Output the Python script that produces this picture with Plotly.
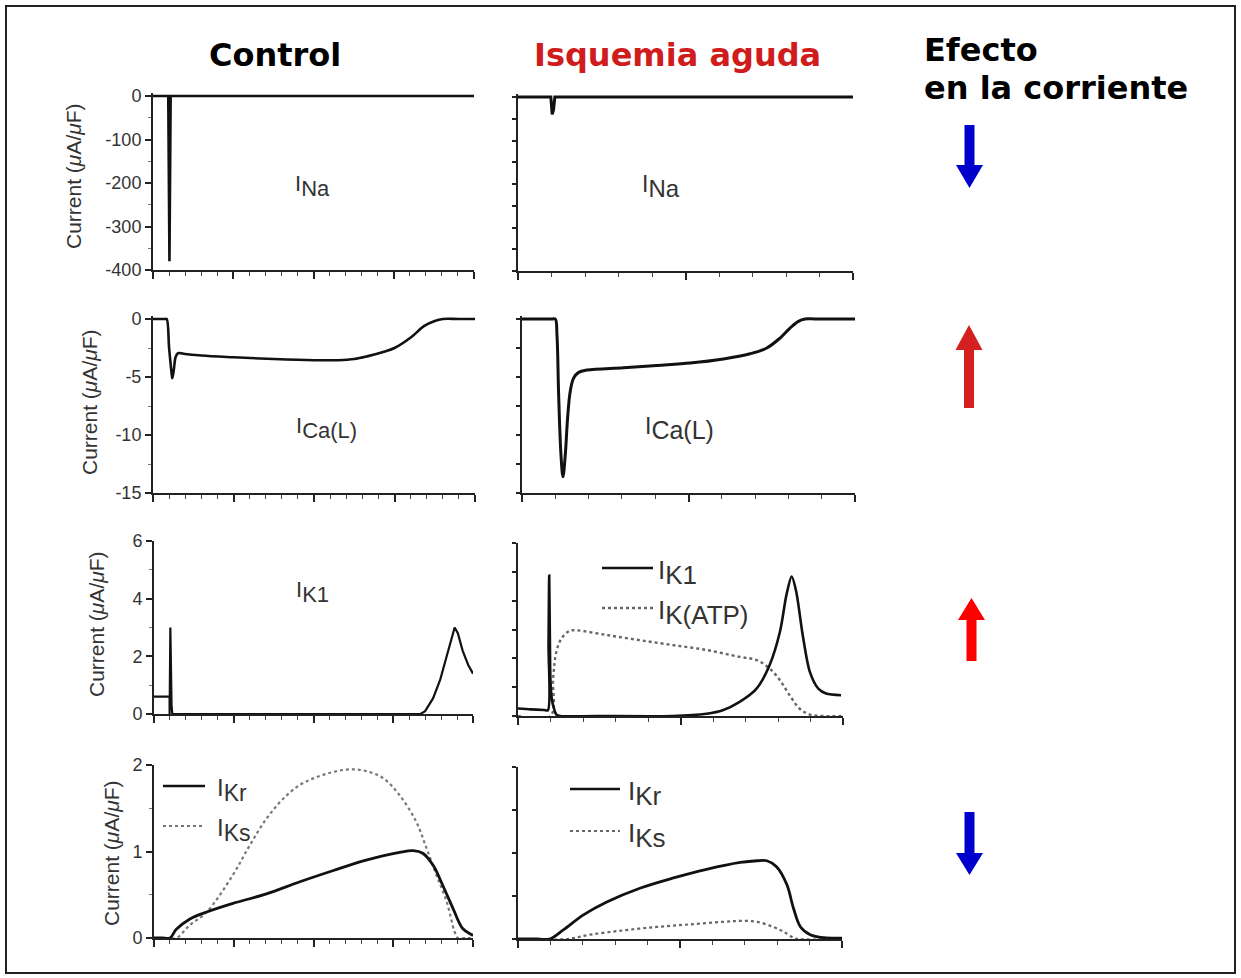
import plotly.graph_objects as go

# ---------------- data ----------------
# Control column (time axis 0-400 ms)
ina_ctrl_t = [0, 19, 20.5, 22, 400]
ina_ctrl_v = [0, 0, -380, 0, 0]

ica_ctrl_t = [0, 10, 15, 17, 20, 23, 24, 26, 28, 31, 38, 60, 100, 150, 200, 230, 250, 267, 288, 300, 321, 337, 350, 360, 380, 400]
ica_ctrl_v = [0, 0, 0, 0, -2.5, -4.6, -5.1, -4.3, -3.3, -2.95, -3.0, -3.15, -3.3, -3.45, -3.55, -3.55, -3.45, -3.2, -2.8, -2.5, -1.55, -0.6, -0.17, 0, 0, 0]

ik1_ctrl_t = [0, 19.5, 19.6, 20.5, 22, 23, 334, 340, 350, 359, 367, 374, 377, 381, 387, 394, 400]
ik1_ctrl_v = [0.6, 0.6, 0, 3.0, 0.3, 0, 0, 0.1, 0.55, 1.2, 2.0, 2.7, 3.0, 2.8, 2.2, 1.7, 1.4]

ikr_ctrl_t = [0, 10, 20, 28, 45, 66, 99, 141, 183, 225, 266, 308, 325, 337, 350, 362, 375, 387, 398, 400]
ikr_ctrl_v = [0, 0, 0, 0.1, 0.22, 0.30, 0.40, 0.51, 0.65, 0.78, 0.90, 0.99, 1.01, 0.98, 0.84, 0.61, 0.34, 0.11, 0.04, 0.03]

iks_ctrl_t = [0, 15, 28, 45, 66, 99, 120, 141, 162, 183, 204, 225, 246, 266, 287, 308, 329, 342, 354, 367, 377, 381, 390, 400]
iks_ctrl_v = [0, 0, 0, 0.15, 0.30, 0.73, 1.07, 1.38, 1.61, 1.77, 1.86, 1.92, 1.95, 1.93, 1.85, 1.65, 1.34, 1.03, 0.73, 0.42, 0.07, 0, 0, 0]

# Acute ischemia column (time axis 0-500 ms)
ina_isch_t = [0, 49, 51, 53, 55, 500]
ina_isch_v = [0, 0, -40, -30, 0, 0]

ica_isch_t = [0, 45, 50, 52.5, 55, 58.5, 61.5, 65, 68.5, 72.5, 77.5, 85, 97.5, 152.5, 202.5, 252.5, 302.5, 342.5, 367.5, 387.5, 402.5, 415, 425, 440, 500]
ica_isch_v = [0, 0, 0, -1.35, -6.5, -11.7, -13.6, -11.7, -8.5, -6.2, -5.1, -4.6, -4.4, -4.2, -4.0, -3.8, -3.45, -3.0, -2.5, -1.64, -0.78, -0.2, 0, 0, 0]

ik1_isch_t = [0, 20, 40, 46, 47, 48, 49, 50, 52, 54, 59, 65, 120, 238, 290, 315, 341, 367, 387, 403, 413, 421, 428, 438, 449, 462, 474, 497]
ik1_isch_v = [0.26, 0.23, 0.21, 0.2, 2.5, 4.87, 2.8, 1.2, 0.6, 0.37, 0.05, 0, 0, 0, 0.08, 0.2, 0.49, 0.95, 1.76, 2.92, 4.2, 4.84, 4.32, 2.81, 1.53, 0.95, 0.78, 0.72]

ikatp_isch_t = [0, 50, 54, 59, 67, 79, 90, 136, 187, 238, 290, 341, 367, 387, 403, 418, 433, 449, 469, 500]
ikatp_isch_v = [0, 0, 1.3, 2.23, 2.69, 2.95, 2.97, 2.81, 2.63, 2.46, 2.29, 2.05, 1.94, 1.65, 1.24, 0.72, 0.26, 0.05, 0, 0]

ikr_isch_t = [0, 30, 49, 70, 101, 137, 188, 240, 291, 343, 369, 384, 399, 415, 425, 436, 451, 472, 500]
ikr_isch_v = [0, 0, 0, 0.105, 0.28, 0.43, 0.59, 0.71, 0.81, 0.89, 0.91, 0.91, 0.84, 0.63, 0.36, 0.14, 0.05, 0.015, 0.01]

iks_isch_t = [0, 75, 111, 162, 214, 265, 317, 343, 369, 394, 410, 425, 432, 500]
iks_isch_v = [0, 0, 0.05, 0.10, 0.14, 0.17, 0.20, 0.21, 0.20, 0.14, 0.085, 0.015, 0, 0]

# tick labels (left column only)
ina_ticks = [-400, -300, -200, -100, 0]
ica_ticks = [-15, -10, -5, 0]
ik1_ticks = [0, 2, 4, 6]
ikr_ticks = [0, 1, 2]

col_titles = ["Control", "Isquemia aguda"]
effect_title = ["Efecto", "en la corriente"]

# ---------------- layout helpers ----------------
W, H = 1241, 978
FONT = "Liberation Sans, Arial, sans-serif"
INK = "#111111"
AX = "#222222"

def fx(p):
    return p / W

def fy(p):
    return 1 - p / H

fig = go.Figure()

# panel geometry in pixels: x0, x1, xmax, ybottom, ytop, ymin, ymax, pad_top, ystep(minor), ticks(left) or None
panels = [
    (153, 474, 400, 270, 96, -400, 0, 6, 50, ina_ticks),
    (518, 853, 500, 271, 97, -400, 0, 6, 50, None),
    (153, 475, 400, 493, 319, -15, 0, 0.25, 2.5, ica_ticks),
    (522, 855, 500, 493, 319, -15, 0, 0.25, 2.5, None),
    (154, 473, 400, 714, 541, 0, 6, 0, 1, ik1_ticks),
    (518, 843, 500, 716, 543, 0, 6, 0, 1, None),
    (154, 473, 400, 938, 765, 0, 2, 0, 0.5, ikr_ticks),
    (518, 842, 500, 939, 767, 0, 2, 0, 0.5, None),
]

layout = {}
for i, (x0, x1, xmax, yb, yt, ymin, ymax, pad, ystep, ticks) in enumerate(panels):
    n = "" if i == 0 else str(i + 1)
    ppu = (yb - yt) / (ymax - ymin)
    top_px = yt - pad * ppu
    left = ticks is not None
    if left:
        xmaj = list(range(0, xmax + 1, 100))
        xmin_dt = 20
    else:
        xmaj = [0, 250, 500]
        xmin_dt = 50
    layout["xaxis" + n] = dict(
        domain=[fx(x0), fx(x1)], range=[0, xmax], anchor="y" + n, automargin=False,
        showgrid=False, zeroline=False, showline=True, linecolor=AX, linewidth=2,
        ticks="outside", tickmode="array", tickvals=xmaj, ticklen=7, tickwidth=1.5,
        tickcolor=AX, showticklabels=False,
        minor=dict(ticks="outside", dtick=xmin_dt, tick0=0, ticklen=4, tickwidth=1.2,
                   tickcolor="#444", showgrid=False),
    )
    if left:
        ya = dict(tickmode="array", tickvals=ticks, ticktext=[str(t) for t in ticks],
                  showticklabels=True, ticklen=6,
                  tickfont=dict(family=FONT, size=18, color="#333"),
                  minor=dict(ticks="outside", dtick=ystep, tick0=0, ticklen=3,
                             tickwidth=1, tickcolor="#777", showgrid=False))
    else:
        nstep = int(round((ymax - ymin) / ystep))
        ya = dict(tickmode="array", tickvals=[ymin + k * ystep for k in range(nstep + 1)],
                  showticklabels=False, ticklen=4)
    ya.update(domain=[fy(yb), fy(top_px)], range=[ymin, ymax + pad], anchor="x" + n,
              automargin=False,
              showgrid=False, zeroline=False, showline=True, linecolor=AX, linewidth=2,
              ticks="outside", tickwidth=1.5, tickcolor=AX)
    layout["yaxis" + n] = ya

def add(t, v, idx, dash="solid", color=INK, width=2.6, shape="spline", name=None, smooth=1.0):
    n = "" if idx == 0 else str(idx + 1)
    fig.add_trace(go.Scatter(
        x=t, y=v, mode="lines", xaxis="x" + n, yaxis="y" + n, name=name,
        line=dict(color=color, width=width, dash=dash, shape=shape, smoothing=smooth),
        hoverinfo="skip", showlegend=False))

add(ina_ctrl_t, ina_ctrl_v, 0, shape="linear", width=2.6, name="I_Na control")
add(ina_isch_t, ina_isch_v, 1, shape="linear", width=3, name="I_Na isquemia")
add(ica_ctrl_t, ica_ctrl_v, 2, name="I_Ca(L) control")
add(ica_isch_t, ica_isch_v, 3, width=3, name="I_Ca(L) isquemia")
add(ik1_ctrl_t, ik1_ctrl_v, 4, shape="linear", width=2.2, name="I_K1 control")
add(ikatp_isch_t, ikatp_isch_v, 5, dash="dot", color="#666", width=2.4, name="I_K(ATP) isquemia")
add(ik1_isch_t, ik1_isch_v, 5, width=2.6, name="I_K1 isquemia", smooth=0.8)
add(iks_ctrl_t, iks_ctrl_v, 6, dash="dot", color="#777", width=2.2, name="I_Ks control")
add(ikr_ctrl_t, ikr_ctrl_v, 6, width=2.8, name="I_Kr control")
add(iks_isch_t, iks_isch_v, 7, dash="3px,3px", color="#666", width=2.2, name="I_Ks isquemia")
add(ikr_isch_t, ikr_isch_v, 7, width=2.8, name="I_Kr isquemia")

annotations = []
shapes = []

def text(px, py, s, size=20, color="#333", family=FONT, xanchor="center", angle=0):
    annotations.append(dict(x=fx(px), y=fy(py), xref="paper", yref="paper", text=s,
                            showarrow=False, xanchor=xanchor, yanchor="middle",
                            textangle=angle, font=dict(family=family, size=size, color=color)))

BOLD = "DejaVu Sans, sans-serif"
text(275, 55, "<b>%s</b>" % col_titles[0], size=32, color="#000", family=BOLD)
text(677, 55, "<b>%s</b>" % col_titles[1], size=32, color="#d01c1c", family=BOLD)
text(922, 50, "<b>%s</b>" % effect_title[0], size=32, color="#000", family=BOLD, xanchor="left")
text(922, 88, "<b>%s</b>" % effect_title[1], size=32, color="#000", family=BOLD, xanchor="left")

# y axis titles
ytitle = "Current (<i>μ</i>A/<i>μ</i>F)"
for (px, py) in [(73, 176), (89, 402), (96, 624), (111, 853)]:
    text(px, py, ytitle, size=21, angle=-90)

def sub(main, s, subsize):
    return main + '<sub><span style="font-size:%dpx">' % subsize + s + '</span></sub>'

# panel labels
text(312, 186, sub("I", "Na", 22), size=22)
text(661, 186, sub("I", "Na", 24), size=23)
text(326, 428, sub("I", "Ca(L)", 22), size=22)
text(679, 428, sub("I", "Ca(L)", 25), size=23)
text(312, 592, sub("I", "K1", 22), size=22)

# in-panel legends
def leg(x0, x1, py, dash, color, label, tx, width=2.6, size=24):
    shapes.append(dict(type="line", xref="paper", yref="paper", x0=fx(x0), x1=fx(x1),
                       y0=fy(py), y1=fy(py), line=dict(color=color, width=width, dash=dash)))
    text(tx, py + 4, label, size=size, xanchor="left")

leg(602, 653, 568, "solid", INK, sub("I", "K1", 26), 656, size=26)
leg(602, 653, 608, "dot", "#666", sub("I", "K(ATP)", 26), 656, width=2.4, size=26)
leg(163, 205, 786, "solid", INK, sub("I", "Kr", 23), 215, size=24)
leg(163, 205, 826, "dot", "#777", sub("I", "Ks", 23), 215, width=2.2, size=24)
leg(570, 620, 789, "solid", INK, sub("I", "Kr", 26), 626, size=26)
leg(570, 620, 831, "3px,3px", "#666", sub("I", "Ks", 26), 626, width=2.2, size=26)

# effect arrows
def arrow(cx, tip, head_base, end, color):
    hw, sw = 13.5, 5
    pts = [(cx, tip), (cx + hw, head_base), (cx + sw, head_base), (cx + sw, end),
           (cx - sw, end), (cx - sw, head_base), (cx - hw, head_base)]
    path = "M " + " L ".join("%.5f,%.5f" % (fx(x), fy(y)) for x, y in pts) + " Z"
    shapes.append(dict(type="path", xref="paper", yref="paper", path=path,
                       fillcolor=color, line=dict(width=0)))

arrow(969.5, 188, 165, 125, "#0000cc")
arrow(969, 325, 350, 408, "#d42020")
arrow(971.5, 598, 620, 661, "#ff0000")
arrow(969.5, 875, 853, 812, "#0000cc")

# outer frame
shapes.append(dict(type="rect", xref="paper", yref="paper", x0=fx(6), x1=fx(1235),
                   y0=fy(973), y1=fy(6), line=dict(color="#222", width=2)))

fig.update_layout(width=W, height=H, margin=dict(l=0, r=0, t=0, b=0, pad=0),
                  paper_bgcolor="white", plot_bgcolor="white", showlegend=False,
                  annotations=annotations, shapes=shapes, **layout)

fig.write_html("out.html")
